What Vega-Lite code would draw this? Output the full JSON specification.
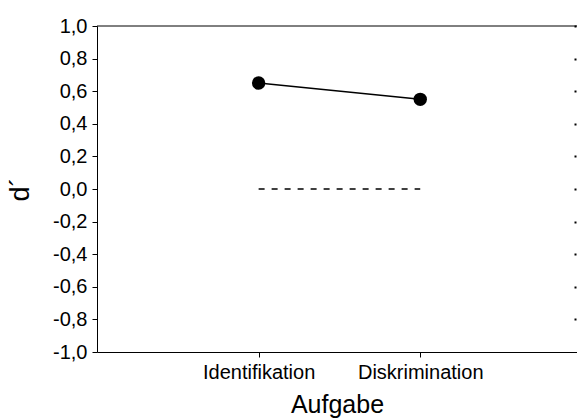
{
  "$schema": "https://vega.github.io/schema/vega-lite/v6.json",
  "width": 480,
  "height": 326,
  "autosize": "none",
  "padding": {"left": 97, "top": 26, "right": 0, "bottom": 68},
  "background": "white",
  "config": {
    "view": {"stroke": null},
    "font": "Liberation Sans",
    "axis": {
      "grid": false,
      "domainColor": "black",
      "tickColor": "black",
      "labelColor": "black",
      "titleColor": "black",
      "labelFont": "Liberation Sans",
      "titleFont": "Liberation Sans",
      "titleFontWeight": "normal",
      "domainWidth": 1,
      "tickWidth": 1
    }
  },
  "datasets": {
    "points": [
      {"aufgabe": "Identifikation", "x": 1, "d": 0.65},
      {"aufgabe": "Diskrimination", "x": 2, "d": 0.55}
    ],
    "ref": [
      {"x": 1, "d": 0},
      {"x": 2, "d": 0}
    ],
    "frame": [
      {"top": 1}
    ]
  },
  "layer": [
    {
      "data": {"name": "points"},
      "mark": {"type": "line", "color": "black", "strokeWidth": 1.5},
      "encoding": {
        "x": {
          "field": "x", "type": "quantitative",
          "scale": {"domain": [0, 2.97], "nice": false, "zero": false},
          "axis": {
            "values": [1, 2],
            "labelExpr": "datum.value == 1 ? 'Identifikation' : 'Diskrimination'",
            "title": "Aufgabe",
            "titleFontSize": 25,
            "labelFontSize": 20,
            "tickSize": 5,
            "labelPadding": 5,
            "titlePadding": 10
          }
        },
        "y": {
          "field": "d", "type": "quantitative",
          "scale": {"domain": [-1, 1], "nice": false},
          "axis": {
            "values": [-1, -0.8, -0.6, -0.4, -0.2, 0, 0.2, 0.4, 0.6, 0.8, 1],
            "labelExpr": "replace(replace(format(datum.value, '.1f'), '.', ','), '\u2212', '-')",
            "title": "d\u00b4",
            "titleFontSize": 27,
            "labelFontSize": 20,
            "tickSize": 5,
            "labelPadding": 5,
            "titlePadding": 18
          }
        }
      }
    },
    {
      "data": {"name": "points"},
      "mark": {"type": "point", "filled": true, "size": 180, "color": "black", "opacity": 1},
      "encoding": {
        "x": {"field": "x", "type": "quantitative", "axis": null},
        "y": {"field": "d", "type": "quantitative", "axis": null}
      }
    },
    {
      "data": {"name": "frame"},
      "mark": {"type": "rule", "color": "black", "strokeWidth": 1},
      "encoding": {
        "x": {"datum": 0, "type": "quantitative", "axis": null},
        "x2": {"datum": 2.97},
        "y": {"field": "top", "type": "quantitative", "axis": null}
      }
    },
    {
      "data": {"name": "ref"},
      "mark": {"type": "line", "color": "black", "strokeWidth": 1.5, "strokeDash": [6, 7]},
      "encoding": {
        "x": {"field": "x", "type": "quantitative", "axis": null},
        "y": {
          "field": "d", "type": "quantitative",
          "axis": {
            "orient": "right",
            "values": [-0.8, -0.6, -0.4, -0.2, 0, 0.2, 0.4, 0.6, 0.8, 1],
            "labels": false,
            "domain": false,
            "title": null,
            "tickSize": 2,
            "offset": -3,
            "tickWidth": 2
          }
        }
      }
    }
  ],
  "resolve": {"axis": {"x": "independent", "y": "independent"}}
}
